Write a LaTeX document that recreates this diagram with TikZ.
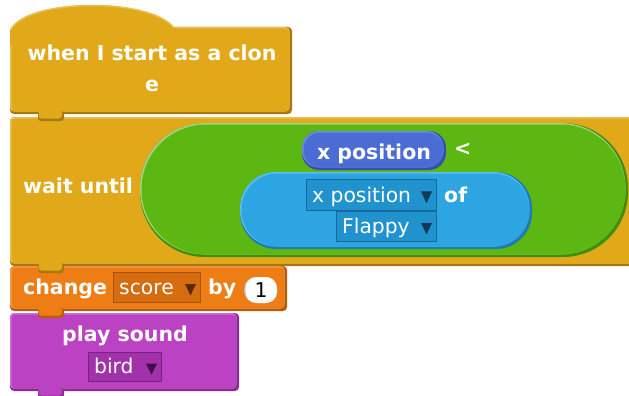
\documentclass[tikz,border=0pt]{standalone}
\usepackage{fontspec}
\setmainfont{DejaVu Sans}
\usetikzlibrary{positioning}

\definecolor{ctrl}{HTML}{E1A91A}
\definecolor{ctrlhi}{HTML}{EBBE52}
\definecolor{ctrllo}{HTML}{A47912}
\definecolor{oper}{HTML}{5CB712}
\definecolor{operhi}{HTML}{A2D47F}
\definecolor{operlo}{HTML}{3F8E0D}
\definecolor{motn}{HTML}{4A6CD4}
\definecolor{motnhi}{HTML}{6E8BDE}
\definecolor{motnlo}{HTML}{3452AC}
\definecolor{sens}{HTML}{2CA5E2}
\definecolor{senshi}{HTML}{5ABDEC}
\definecolor{senslo}{HTML}{1E7CB2}
\definecolor{sensmenu}{HTML}{2092CD}
\definecolor{sensedge}{HTML}{17699A}
\definecolor{sensarrow}{HTML}{0E3A55}
\definecolor{vars}{HTML}{EE7D16}
\definecolor{varshi}{HTML}{F39A4A}
\definecolor{varslo}{HTML}{B55E10}
\definecolor{varsmenu}{HTML}{D56C10}
\definecolor{varsedge}{HTML}{A6520A}
\definecolor{varsarrow}{HTML}{5A2A02}
\definecolor{snd}{HTML}{BB42C3}
\definecolor{sndhi}{HTML}{CD6FD3}
\definecolor{sndlo}{HTML}{8C2D93}
\definecolor{sndmenu}{HTML}{A232AA}
\definecolor{sndedge}{HTML}{7A2080}
\definecolor{sndarrow}{HTML}{3F0F46}

\tikzset{
  lbl/.style={text=white, font=\bfseries\fontsize{20.5}{32}\selectfont, inner sep=0pt},
  menutext/.style={text=white, font=\fontsize{20.3}{22}\selectfont, inner sep=0pt},
}

\begin{document}
\begin{tikzpicture}[x=1pt, y=-1pt]
\useasboundingbox (0,0) rectangle (629,396);
\def\blockfill#1#2#3#4#5#6{%
  \fill[#2lo, rounded corners=#1] (#3,#4) rectangle (#5,#6);
  \fill[#2hi, rounded corners=#1] (#3,#4) rectangle (#5-2.5,#6-2.5);
  \fill[#2, rounded corners=#1] (#3+1.5,#4+1.5) rectangle (#5-2.5,#6-2.5);}
\def\blocktab#1#2{%
  \fill[#1lo, rounded corners=3] (38,#2-3) rectangle (64,#2+7);
  \fill[#1, rounded corners=3] (38.5,#2-4) rectangle (62,#2+4.5);}
\def\menubox#1#2#3#4#5{%
  \draw[#1edge, fill=#1menu] (#2,#3) rectangle (#4,#5);
  \fill[#1arrow] (#4-15,#3+0.4*#5-0.4*#3) -- (#4-4,#3+0.4*#5-0.4*#3) -- (#4-9.5,#3+0.78*#5-0.78*#3) -- cycle;}

% play sound
\blockfill{4}{snd}{10}{313}{239}{391}
\blocktab{snd}{391}
\node[lbl, anchor=base] (play) at (125,341) {play sound};
\menubox{snd}{88}{352}{161}{381}
\node[menutext, anchor=base west] (bird) at (94,373) {bird};

% change score
\blockfill{4}{vars}{10}{266}{287}{311}
\blocktab{vars}{311}
\node[lbl, anchor=base west] (change) at (23,294) {change};
\menubox{vars}{113}{272}{200}{302}
\node[menutext, anchor=base west] (score) at (119,294) {score};
\node[lbl, anchor=base west] (by) at (208,294) {by};
\fill[black!25, rounded corners=12] (244,277) rectangle (277,303);
\fill[white, rounded corners=11] (245.5,277) rectangle (277,303);
\node[anchor=base, inner sep=0pt, font=\fontsize{20.3}{22}\selectfont] (num) at (261,297) {1};

% wait until
\blockfill{4}{ctrl}{10}{117}{650}{266}
\blocktab{ctrl}{266}
\node[lbl, anchor=base west] (wait) at (23,193) {wait until};
\blockfill{65}{oper}{140}{123}{628}{257}
\blockfill{17}{motn}{302}{131}{446}{170}
\node[lbl, anchor=base] (xpos) at (374,159) {x position};
\node[lbl, anchor=base west] (less) at (454,155) {<};
\blockfill{36}{sens}{240}{172}{532}{249}
\menubox{sens}{306}{179}{436}{210}
\node[menutext, anchor=base west] (attr) at (312,202) {x position};
\node[lbl, anchor=base west] (of) at (444,202) {of};
\menubox{sens}{336}{211}{436}{241}
\node[menutext, anchor=base west] (sprite) at (342,233) {Flappy};

% hat block
\blockfill{4}{ctrl}{10}{27}{292}{114}
\blocktab{ctrl}{114}
\fill[ctrl] (10,45) -- (10,30) .. controls (25,-2) and (150,-4) .. (175,28.5) -- (175,45) -- cycle;
\draw[ctrlhi, line width=1.5] (10.7,30) .. controls (25.7,-1.3) and (150,-3.3) .. (174,28);
\node[lbl, anchor=base, align=center] (hat) at (152,92) {when I start as a clon\\e};
\end{tikzpicture}
\end{document}
